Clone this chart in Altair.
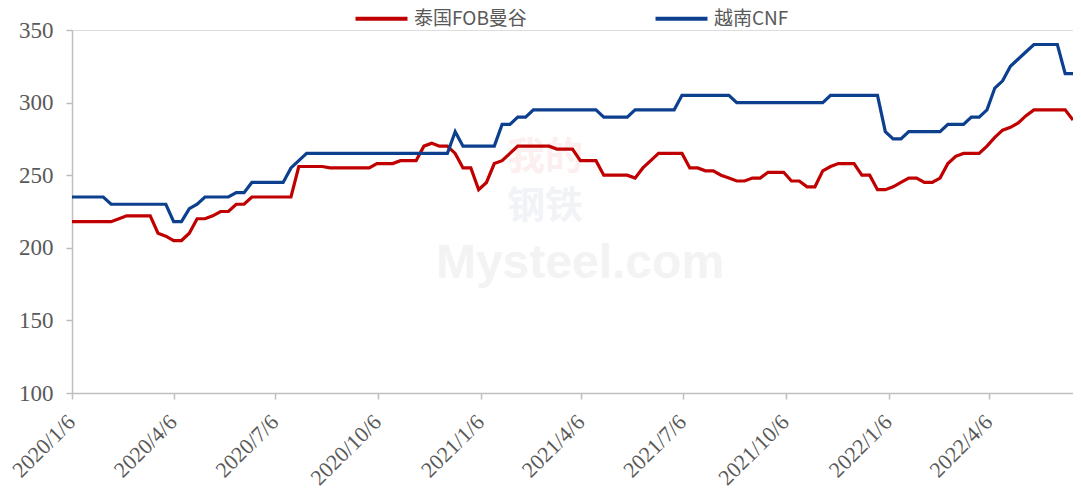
import altair as alt
import pandas as pd

series_names = ["泰国FOB曼谷", "越南CNF"]
start_date = "2020-01-06"

thai_fob = [
    218, 218, 218, 218, 218, 218, 220, 222, 222, 222,
    222, 210, 208, 205, 205, 210, 220, 220, 222, 225,
    225, 230, 230, 235, 235, 235, 235, 235, 235, 256,
    256, 256, 256, 255, 255, 255, 255, 255, 255, 258,
    258, 258, 260, 260, 260, 270, 272, 270, 270, 265,
    255, 255, 240, 245, 258, 260, 265, 270, 270, 270,
    270, 270, 268, 268, 268, 260, 260, 260, 250, 250,
    250, 250, 248, 255, 260, 265, 265, 265, 265, 255,
    255, 253, 253, 250, 248, 246, 246, 248, 248, 252,
    252, 252, 246, 246, 242, 242, 253, 256, 258, 258,
    258, 250, 250, 240, 240, 242, 245, 248, 248, 245,
    245, 248, 258, 263, 265, 265, 265, 270, 276, 281,
    283, 286, 291, 295, 295, 295, 295, 295, 288,
]

vietnam_cnf = [
    235, 235, 235, 235, 235, 230, 230, 230, 230, 230,
    230, 230, 230, 218, 218, 227, 230, 235, 235, 235,
    235, 238, 238, 245, 245, 245, 245, 245, 255, 260,
    265, 265, 265, 265, 265, 265, 265, 265, 265, 265,
    265, 265, 265, 265, 265, 265, 265, 265, 265, 280,
    270, 270, 270, 270, 270, 285, 285, 290, 290, 295,
    295, 295, 295, 295, 295, 295, 295, 295, 290, 290,
    290, 290, 295, 295, 295, 295, 295, 295, 305, 305,
    305, 305, 305, 305, 305, 300, 300, 300, 300, 300,
    300, 300, 300, 300, 300, 300, 300, 305, 305, 305,
    305, 305, 305, 305, 280, 275, 275, 280, 280, 280,
    280, 280, 285, 285, 285, 290, 290, 295, 310, 315,
    325, 330, 335, 340, 340, 340, 340, 320, 320,
]

tick_dates = [
    (2020, 1, 6), (2020, 4, 6), (2020, 7, 6), (2020, 10, 6),
    (2021, 1, 6), (2021, 4, 6), (2021, 7, 6), (2021, 10, 6),
    (2022, 1, 6), (2022, 4, 6),
]
y_ticks = [100, 150, 200, 250, 300, 350]
colors = ["#C00000", "#0C3F8E"]

watermark_texts = ["我的", "钢铁", "Mysteel.com"]

dates = pd.date_range(start_date, periods=len(thai_fob), freq="7D")
df = pd.concat([
    pd.DataFrame({"date": dates, "value": thai_fob, "series": series_names[0]}),
    pd.DataFrame({"date": dates, "value": vietnam_cnf, "series": series_names[1]}),
])

axis_color = "#BFBFBF"
label_color = "#595959"

x_enc = alt.X(
    "date:T",
    scale=alt.Scale(domain=[alt.DateTime(year=2020, month=1, date=6),
                            alt.DateTime(year=2022, month=6, date=20)]),
    axis=alt.Axis(
        title=None,
        values=[alt.DateTime(year=y, month=m, date=d) for (y, m, d) in tick_dates],
        format="%Y/%-m/%-d",
        labelAngle=-45,
        labelFont="Liberation Serif",
        labelFontSize=22,
        labelColor=label_color,
        labelOffset=-8,
        labelPadding=12,
        domainColor=axis_color,
        domainWidth=1.5,
        tickColor=axis_color,
        tickSize=6,
        tickWidth=1.5,
        grid=False,
    ),
)

y_enc = alt.Y(
    "value:Q",
    scale=alt.Scale(domain=[100, 350], nice=False, zero=False),
    axis=alt.Axis(
        title=None,
        values=y_ticks,
        labelFont="Liberation Serif",
        labelFontSize=23,
        labelColor=label_color,
        domainColor=axis_color,
        domainWidth=1.5,
        tickColor=axis_color,
        tickSize=6,
        tickWidth=1.5,
        labelPadding=13,
        grid=False,
    ),
)

color_enc = alt.Color(
    "series:N",
    scale=alt.Scale(domain=series_names, range=colors),
    sort=series_names,
    legend=alt.Legend(
        title=None,
        orient="none",
        direction="horizontal",
        legendX=300,
        legendY=-21,
        symbolType="M-5,0L5,0",
        symbolSize=108,
        symbolStrokeWidth=4,
        labelFont="Noto Sans CJK SC",
        labelFontSize=19,
        labelColor=label_color,
        labelOffset=23,
        columnPadding=120,
        padding=0,
    ),
)

# faint watermark
wm_df = pd.DataFrame({"t": watermark_texts})
wm1 = alt.Chart(wm_df).transform_filter(alt.datum.t == watermark_texts[0]).mark_text(
    font="Noto Sans CJK SC", fontSize=38, fontWeight="bold", color="#FBEFEF"
).encode(text="t:N", x=alt.value(473), y=alt.value(128))
wm2 = alt.Chart(wm_df).transform_filter(alt.datum.t == watermark_texts[1]).mark_text(
    font="Noto Sans CJK SC", fontSize=38, fontWeight="bold", color="#F1F3F7"
).encode(text="t:N", x=alt.value(473), y=alt.value(177))
wm3 = alt.Chart(wm_df).transform_filter(alt.datum.t == watermark_texts[2]).mark_text(
    font="Liberation Sans", fontSize=48, fontWeight="bold", color="#F3F3F3",
    baseline="alphabetic"
).encode(text="t:N", x=alt.value(508), y=alt.value(248))

lines = alt.Chart(df).mark_line(strokeWidth=3.2, interpolate="linear").encode(
    x=x_enc, y=y_enc, color=color_enc, order="date:T"
)

chart = alt.layer(wm1, wm2, wm3, lines).properties(
    width=1001,
    height=363,
    autosize=alt.AutoSizeParams(type="none"),
    padding={"left": 64, "top": 22, "right": 0, "bottom": 100},
).configure_view(stroke=None).configure(background="white")

chart.save("out.html", embed_options={"renderer": "svg", "actions": False})
